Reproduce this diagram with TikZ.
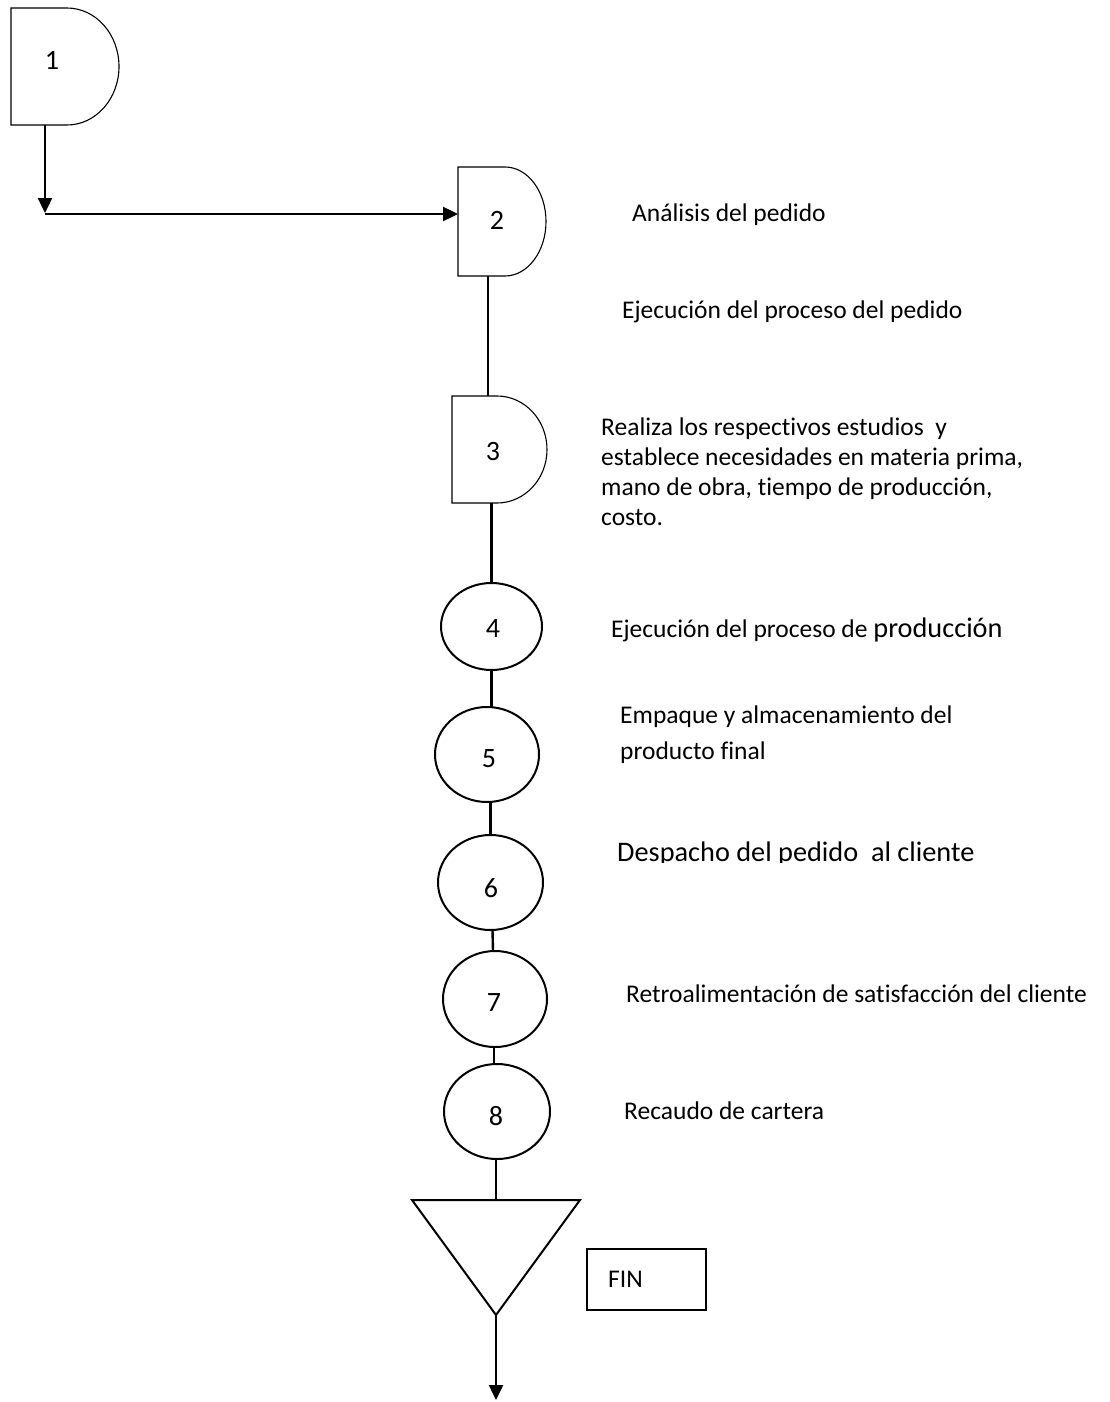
\documentclass[tikz,border=0pt]{standalone}
\usepackage{fontspec}
\setmainfont[Ligatures={NoCommon}]{Carlito}
\usetikzlibrary{calc,arrows.meta,shapes.geometric}
\begin{document}
\begin{tikzpicture}[x=1pt,y=-1pt,
  box/.style={inner sep=0pt,outer sep=0pt,draw=none},
  dline/.style={line width=1.1pt},
  oval/.style={ellipse,draw,line width=2pt,inner sep=0pt,outer sep=0pt},
  conn/.style={line width=2.4pt},
  arr/.style={line width=2.4pt,-{Triangle[length=15pt,width=14pt]}},
  num/.style={font=\fontsize{28}{32}\selectfont,inner sep=0pt},
  txt/.style={font=\fontsize{25.5}{30}\selectfont,inner sep=0pt,anchor=base west},
  big/.style={font=\fontsize{28.3}{32}\selectfont,inner sep=0pt,anchor=base west}
]
\useasboundingbox (0,0) rectangle (1109,1402);
% ---- D shapes (delay symbols) ----
\node[box,minimum width=108pt,minimum height=117pt] (d1) at (65,66.5) {};
\draw[dline] (d1.north west) -- ($(d1.north east)+(-52pt,0)$)
  arc[start angle=90,end angle=-90,x radius=52pt,y radius=58.5pt] -- (d1.south west) -- cycle;
\node[num] (n1) at (52,60) {1};

\node[box,minimum width=88pt,minimum height=109pt] (d2) at (502,221.5) {};
\draw[dline] (d2.north west) -- ($(d2.north east)+(-41pt,0)$)
  arc[start angle=90,end angle=-90,x radius=41pt,y radius=54.5pt] -- (d2.south west) -- cycle;
\node[num] (n2) at (497,220) {2};

\node[box,minimum width=95pt,minimum height=107pt] (d3) at (499.5,449.5) {};
\draw[dline] (d3.north west) -- ($(d3.north east)+(-50pt,0)$)
  arc[start angle=90,end angle=-90,x radius=50pt,y radius=53.5pt] -- (d3.south west) -- cycle;
\node[num] (n3) at (493,452) {3};

% ---- ellipses ----
\node[oval,minimum width=101pt,minimum height=87pt] (c4) at (491.5,626.5) {};
\node[num] (n4) at (493,629) {4};
\node[oval,minimum width=104pt,minimum height=95pt] (c5) at (487,754.5) {};
\node[num] (n5) at (489,759) {5};
\node[oval,minimum width=105pt,minimum height=95pt] (c6) at (490.5,882.5) {};
\node[num] (n6) at (491,888) {6};
\node[oval,minimum width=104pt,minimum height=96pt] (c7) at (495,999) {};
\node[num] (n7) at (494,1003) {7};
\node[oval,minimum width=106pt,minimum height=95pt] (c8) at (497,1111.5) {};
\node[num] (n8) at (496,1116) {8};

% ---- triangle ----
\node[box,minimum width=168pt,minimum height=115pt] (tri) at (496,1257.5) {};
\draw[line width=2pt,line join=miter] (tri.north west) -- (tri.north east) -- (tri.south) -- cycle;

% ---- FIN box ----
\node[draw,line width=1.8pt,minimum width=119pt,minimum height=61pt,inner sep=0pt] (fin) at (646.5,1279.5) {};
\node[txt] (fintxt) at (608,1287) {FIN};

% ---- connectors ----
\coordinate (c1) at (45,213);
\coordinate (tend) at (496,1400);
\draw[arr] (d1.south -| c1) -- (c1);
\draw[arr] ($(c1)+(0,-1pt)$) -- ($(c1 -| d2.west)+(0,-1pt)$);
\draw[conn] ($(d2.south west)+(30pt,0)$) -- ($(d3.north west)+(36pt,0)$);
\draw[conn] (d3.south -| c4.north) -- (c4.north);
\draw[conn] (c4.south) -- (c4.south |- c5.north);
\draw[conn] (c6.north |- c5.south) -- (c6.north);
\draw[conn] ($(c6.south)+(2pt,0)$) -- ($(c7.north)+(-2pt,0)$);
\draw[conn] ($(c7.south)+(-1pt,0)$) -- ($(c8.north)+(-3pt,0)$);
\draw[conn] ($(c8.south)+(-1pt,0)$) -- (tri.north);
\draw[arr] (tri.south) -- (tend);

% ---- descriptions ----
\node[txt] (t2) at (632,221) {Análisis del pedido};
\node[txt] (t2b) at (622,318) {Ejecución del proceso del pedido};
\node[txt] (t3a) at (601,435) {Realiza los respectivos estudios\ \ y};
\node[txt] (t3b) at (601,465) {establece necesidades en materia prima,};
\node[txt] (t3c) at (601,495) {mano de obra, tiempo de producción,};
\node[txt] (t3d) at (601,525) {costo.};
\node[txt] (t4) at (611,637) {Ejecución del proceso de {\fontsize{28.3}{32}\selectfont producción}};
\node[txt] (t5a) at (620,723) {Empaque y almacenamiento del};
\node[txt] (t5b) at (620,759) {producto final};
\begin{scope}
  \clip (600,820) rectangle (1000,862.5);
  \node[big] (t6) at (617,861) {Despacho del pedido\ \ al cliente};
\end{scope}
\node[txt] (t7) at (626,1002) {Retroalimentación de satisfacción del cliente};
\node[txt] (t8) at (624,1119) {Recaudo de cartera};
\end{tikzpicture}
\end{document}
